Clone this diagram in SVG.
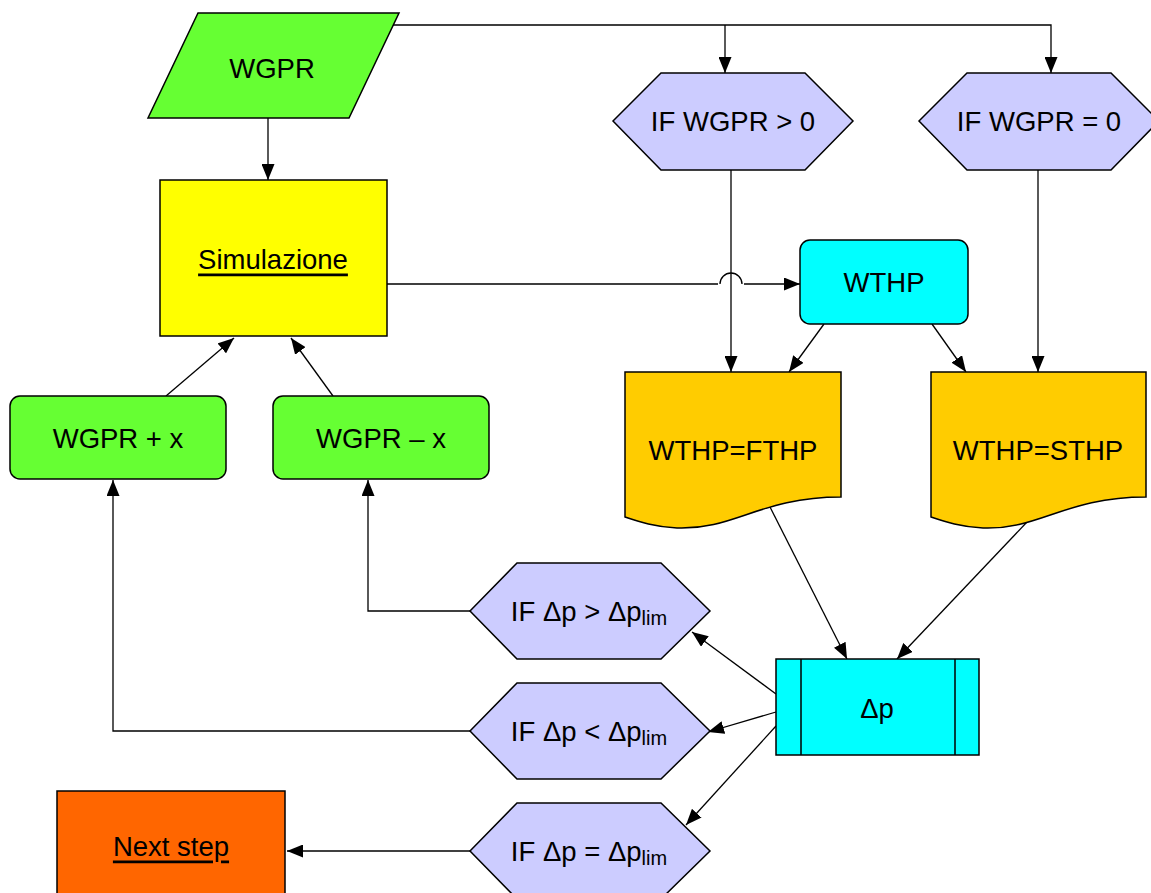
<svg xmlns="http://www.w3.org/2000/svg" width="1151" height="893" viewBox="0 0 1151 893">
<style>
.s{stroke:#000;stroke-width:1.5}
.c{stroke:#000;stroke-width:1.3;fill:none}
.t{font-family:"Liberation Sans",Arial,sans-serif;font-size:27.5px;fill:#000;text-anchor:middle;dominant-baseline:central}
.sub{font-size:20px}
.hex{fill:#CCCCFF}
</style>
<defs>
<marker id="a" viewBox="0 0 16 13" refX="16" refY="6.5" markerWidth="16" markerHeight="13" markerUnits="userSpaceOnUse" orient="auto">
<path d="M0,0 L16,6.5 L0,13 Z" fill="#000"/>
</marker>
</defs>
<rect width="1151" height="893" fill="#fff"/>
<g id="connectors">
<path class="c" d="M393,25 H1051 V73" marker-end="url(#a)"/>
<path class="c" d="M725,25 V73" marker-end="url(#a)"/>
<path class="c" d="M268,118 V180" marker-end="url(#a)"/>
<path class="c" d="M387,284 H718 M720,284 A11,11 0 0 1 742,284 M744,284 H800" marker-end="url(#a)"/>
<path class="c" d="M731,170 V372" marker-end="url(#a)"/>
<path class="c" d="M1038,170 V372" marker-end="url(#a)"/>
<path class="c" d="M824,324 L789,372" marker-end="url(#a)"/>
<path class="c" d="M932,324 L966,372" marker-end="url(#a)"/>
<path class="c" d="M770,507 L847,659" marker-end="url(#a)"/>
<path class="c" d="M1027,522 L897,659" marker-end="url(#a)"/>
<path class="c" d="M776,694 L692,632" marker-end="url(#a)"/>
<path class="c" d="M776,712 L708,732" marker-end="url(#a)"/>
<path class="c" d="M776,726 L686,825" marker-end="url(#a)"/>
<path class="c" d="M470,611 H368 V480" marker-end="url(#a)"/>
<path class="c" d="M470,731 H113 V480" marker-end="url(#a)"/>
<path class="c" d="M470,851 H287" marker-end="url(#a)"/>
<path class="c" d="M166,396 L234,338" marker-end="url(#a)"/>
<path class="c" d="M333,396 L291,338" marker-end="url(#a)"/>
</g>
<g id="wgpr">
<path class="s" d="M198,13 H399 L349,118 H148 Z" fill="#66FF33"/>
<text class="t" x="272" y="68">WGPR</text>
</g>
<g id="ifgt0">
<path class="s hex" d="M613,121 L661,73 H805 L853,121 L805,170 H661 Z"/>
<text class="t" x="733" y="121">IF WGPR &gt; 0</text>
</g>
<g id="ifeq0">
<path class="s hex" d="M919,121 L967,73 H1111 L1159,121 L1111,170 H967 Z"/>
<text class="t" x="1039" y="121">IF WGPR = 0</text>
</g>
<g id="simulazione">
<rect class="s" x="160" y="180" width="227" height="156" fill="#FFFF00"/>
<text class="t" x="273" y="259" text-decoration="underline">Simulazione</text>
</g>
<g id="wthp">
<rect class="s" x="800" y="240" width="168" height="84" rx="10" fill="#00FFFF"/>
<text class="t" x="884" y="282">WTHP</text>
</g>
<g id="fthp">
<path class="s" d="M625,372 H841 V497 C760,497 735,530 677,528 C655,527 640,522 625,517 Z" fill="#FFCC00"/>
<text class="t" x="733" y="450">WTHP=FTHP</text>
</g>
<g id="sthp">
<path class="s" d="M931,372 H1146 V497 C1065,497 1040,530 983,528 C961,527 946,522 931,517 Z" fill="#FFCC00"/>
<text class="t" x="1038" y="450">WTHP=STHP</text>
</g>
<g id="wgprplus">
<rect class="s" x="10" y="396" width="216" height="83" rx="10" fill="#66FF33"/>
<text class="t" x="118" y="438">WGPR + x</text>
</g>
<g id="wgprminus">
<rect class="s" x="273" y="396" width="216" height="83" rx="10" fill="#66FF33"/>
<text class="t" x="381" y="438">WGPR – x</text>
</g>
<g id="dp">
<rect class="s" x="776" y="659" width="203" height="96" fill="#00FFFF"/>
<path class="s" d="M801,659 V755 M955,659 V755" fill="none"/>
<text class="t" x="877" y="708">Δp</text>
</g>
<g id="ifdpgt">
<path class="s hex" d="M470,611 L517,563 H661 L710,611 L661,659 H517 Z"/>
<text class="t" x="589" y="611">IF Δp &gt; Δp<tspan class="sub" dy="7">lim</tspan></text>
</g>
<g id="ifdplt">
<path class="s hex" d="M470,731 L517,683 H661 L710,731 L661,779 H517 Z"/>
<text class="t" x="589" y="731">IF Δp &lt; Δp<tspan class="sub" dy="7">lim</tspan></text>
</g>
<g id="ifdpeq">
<path class="s hex" d="M470,851 L517,803 H661 L710,851 L661,899 H517 Z"/>
<text class="t" x="589" y="851">IF Δp = Δp<tspan class="sub" dy="7">lim</tspan></text>
</g>
<g id="nextstep">
<rect class="s" x="57" y="791" width="228" height="110" fill="#FF6600"/>
<text class="t" x="171" y="846" text-decoration="underline">Next step</text>
</g>
</svg>
